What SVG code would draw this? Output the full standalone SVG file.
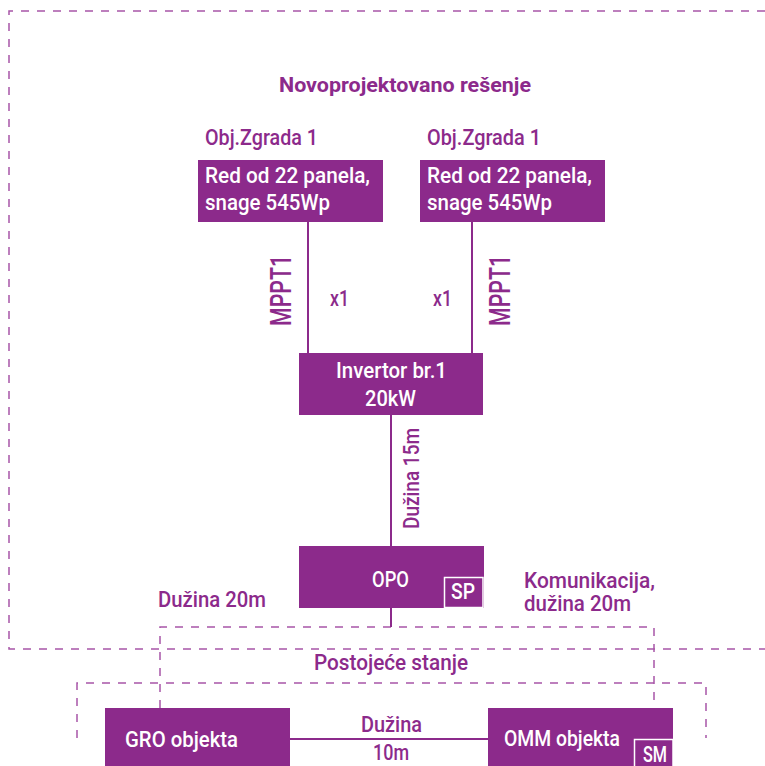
<svg xmlns="http://www.w3.org/2000/svg" width="765" height="766" viewBox="0 0 765 766">
<style>
.box{fill:#8C2A8B}
.dash{fill:none;stroke:#A855A8;stroke-width:1.5;stroke-dasharray:8 8}
.ln{fill:none;stroke:#8C2A8B;stroke-width:2}
.t{font-family:Roboto,"Liberation Sans",sans-serif;font-size:22px;font-weight:500;fill:#8C2A8B}
.w{font-family:Roboto,"Liberation Sans",sans-serif;font-size:22px;font-weight:500;fill:#ffffff}
.b{font-weight:bold;font-size:21px}
.tag{fill:none;stroke:#ffffff;stroke-width:1.5}
</style>
<rect width="765" height="766" fill="#ffffff"/>
<g id="frames">
<path class="dash" d="M765 11 H9 V649 H765"/>
<path class="dash" d="M160 708 V627 H654 V708"/>
<path class="dash" d="M77 738 V683 H706 V738"/>
</g>
<g id="connectors">
<line class="ln" x1="308" y1="222" x2="308" y2="353"/>
<line class="ln" x1="472" y1="222" x2="472" y2="353"/>
<line class="ln" x1="391" y1="415" x2="391" y2="546"/>
<line class="ln" x1="391" y1="608" x2="391" y2="627"/>
<line class="ln" x1="290" y1="739" x2="488" y2="739" stroke-width="2.5"/>
<text class="t" transform="translate(291,326) rotate(-90)" textLength="71" lengthAdjust="spacingAndGlyphs" style="font-size:29px">MPPT1</text>
<text class="t" transform="translate(510,326) rotate(-90)" textLength="71" lengthAdjust="spacingAndGlyphs" style="font-size:29px">MPPT1</text>
<text class="t" x="330" y="306" textLength="19" lengthAdjust="spacingAndGlyphs">x1</text>
<text class="t" x="433" y="306" textLength="19" lengthAdjust="spacingAndGlyphs">x1</text>
<text class="t" transform="translate(419,529) rotate(-90)" textLength="101" lengthAdjust="spacingAndGlyphs">Dužina 15m</text>
<text class="t" x="158" y="607" textLength="108" lengthAdjust="spacingAndGlyphs">Dužina 20m</text>
<text class="t" x="524" y="588" textLength="131" lengthAdjust="spacingAndGlyphs">Komunikacija,</text>
<text class="t" x="524" y="611" textLength="107" lengthAdjust="spacingAndGlyphs">dužina 20m</text>
<text class="t" x="361" y="732" textLength="61" lengthAdjust="spacingAndGlyphs">Dužina</text>
<text class="t" x="373" y="760" textLength="36" lengthAdjust="spacingAndGlyphs">10m</text>
</g>
<g id="title">
<text class="t b" x="279" y="92" textLength="252" lengthAdjust="spacingAndGlyphs">Novoprojektovano rešenje</text>
</g>
<g id="panel1">
<text class="t" x="205" y="145" textLength="113" lengthAdjust="spacingAndGlyphs">Obj.Zgrada 1</text>
<rect class="box" x="198" y="160" width="185" height="62"/>
<text class="w" x="205" y="183" textLength="165" lengthAdjust="spacingAndGlyphs">Red od 22 panela,</text>
<text class="w" x="205" y="210" textLength="125" lengthAdjust="spacingAndGlyphs">snage 545Wp</text>
</g>
<g id="panel2">
<text class="t" x="427" y="145" textLength="114" lengthAdjust="spacingAndGlyphs">Obj.Zgrada 1</text>
<rect class="box" x="420" y="160" width="185" height="62"/>
<text class="w" x="427" y="183" textLength="165" lengthAdjust="spacingAndGlyphs">Red od 22 panela,</text>
<text class="w" x="427" y="210" textLength="125" lengthAdjust="spacingAndGlyphs">snage 545Wp</text>
</g>
<g id="invertor">
<rect class="box" x="299" y="353" width="184" height="62"/>
<text class="w" x="336" y="378" textLength="111" lengthAdjust="spacingAndGlyphs">Invertor br.1</text>
<text class="w" x="365" y="406" textLength="51" lengthAdjust="spacingAndGlyphs">20kW</text>
</g>
<g id="opo">
<rect class="box" x="299" y="546" width="185" height="62"/>
<text class="w" x="372" y="587" textLength="37" lengthAdjust="spacingAndGlyphs">OPO</text>
<rect class="tag" x="444.5" y="577.5" width="38.5" height="30"/>
<text class="w" x="451" y="599" textLength="24" lengthAdjust="spacingAndGlyphs">SP</text>
</g>
<g id="postojece">
<text class="t" x="314" y="670" textLength="154" lengthAdjust="spacingAndGlyphs">Postojeće stanje</text>
</g>
<g id="gro">
<rect class="box" x="105" y="708" width="185" height="62"/>
<text class="w" x="125" y="747" textLength="113" lengthAdjust="spacingAndGlyphs">GRO objekta</text>
</g>
<g id="omm">
<rect class="box" x="488" y="708" width="185" height="62"/>
<text class="w" x="504" y="746" textLength="116" lengthAdjust="spacingAndGlyphs">OMM objekta</text>
<rect class="tag" x="634.5" y="739.5" width="38.5" height="30"/>
<text class="w" x="643" y="762" textLength="24" lengthAdjust="spacingAndGlyphs">SM</text>
</g>
</svg>
